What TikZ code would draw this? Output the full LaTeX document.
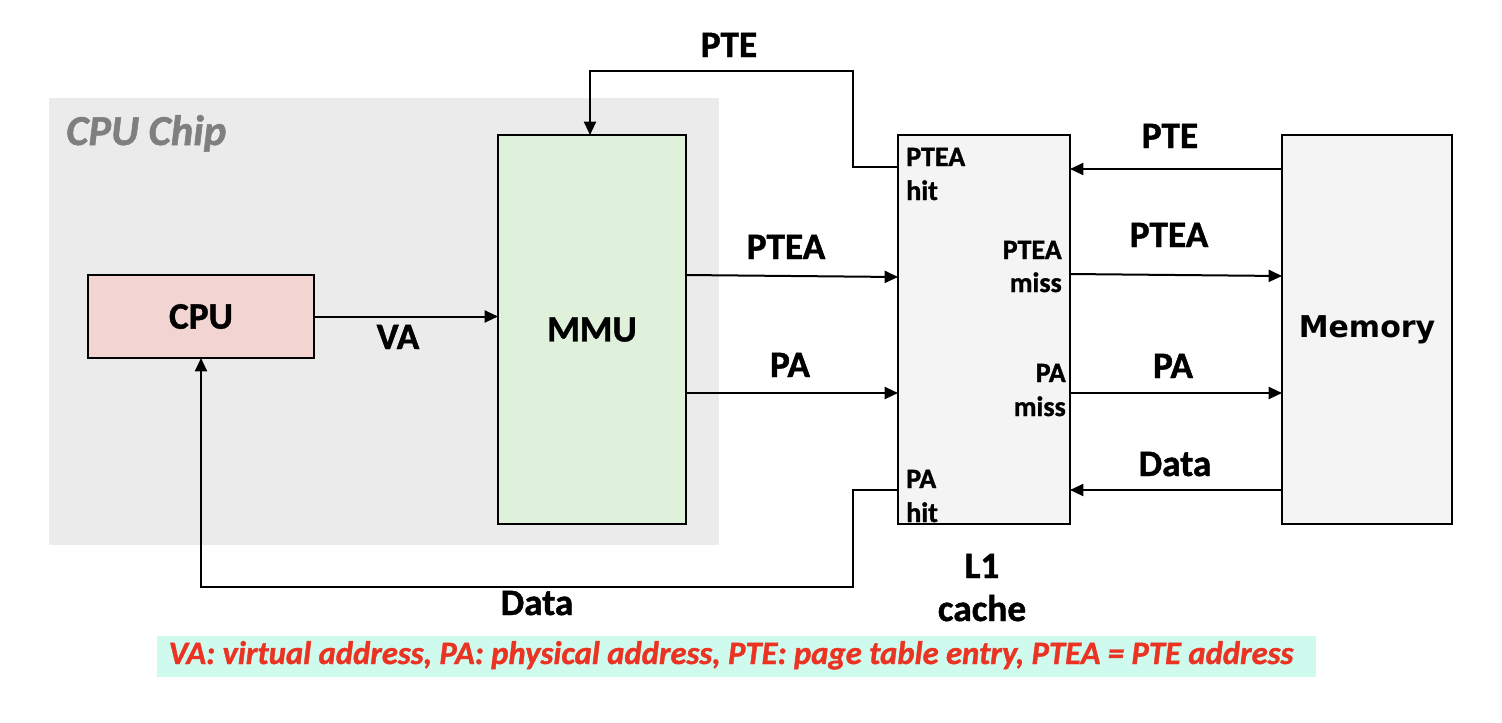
\documentclass[tikz,border=0pt]{standalone}
\usepackage{fontspec}
\setmainfont{Carlito}[BoldFeatures={FakeBold=1.2},BoldItalicFeatures={FakeBold=1.2}]
\newfontfamily\memfont{DejaVu Sans}
\usetikzlibrary{arrows.meta}
\definecolor{chipgray}{HTML}{EBEBEB}
\definecolor{cpufill}{HTML}{F2D4D3}
\definecolor{mmufill}{HTML}{DFF0DB}
\definecolor{boxfill}{HTML}{F4F4F4}
\definecolor{legbg}{HTML}{CFFBEE}
\definecolor{legred}{HTML}{EA3323}
\definecolor{chiptext}{HTML}{7F7F7F}
\begin{document}
\begin{tikzpicture}[x=0.75pt,y=-0.75pt,
  box/.style={draw=black, line width=1.5pt, inner sep=0pt, outer sep=0pt},
  biglbl/.style={font=\fontsize{28}{33}\selectfont\bfseries, inner sep=0pt, anchor=base},
  boxlbl/.style={font=\fontsize{28}{34}\selectfont\bfseries},
  smalllbl/.style={font=\fontsize{21}{25}\selectfont\bfseries, inner sep=0pt},
  arr/.style={line width=1.5pt, -{Triangle[length=10pt,width=9pt]}},
  wire/.style={line width=1.5pt}]
\useasboundingbox (0,0) rectangle (1502,722);
% background of the chip
\node[fill=chipgray, minimum width=502.5pt, minimum height=335.25pt, inner sep=0pt, outer sep=0pt] (chip) at (384,321.5) {};
\node[font=\fontsize{32}{38}\selectfont\bfseries\itshape, text=chiptext, inner sep=0pt, anchor=base west] (chiplbl) at (66,145) {CPU Chip};
% boxes
\node[box, fill=cpufill, minimum width=169.5pt, minimum height=62.25pt, boxlbl] (cpu) at (201,316.5) {CPU};
\node[box, fill=mmufill, minimum width=141pt, minimum height=291.75pt, boxlbl] (mmu) at (592,329.5) {MMU};
\node[box, fill=boxfill, minimum width=129pt, minimum height=291.75pt] (l1) at (984,329.5) {};
\node[box, fill=boxfill, minimum width=127.5pt, minimum height=291.75pt, font=\memfont\fontsize{22.5}{27}\selectfont\bfseries] (mem) at (1367,329.5) {Memory};
% labels inside L1
\node[smalllbl, anchor=base west] (ph1) at (906,166) {PTEA};
\node[smalllbl, anchor=base west] (ph2) at (906,200) {hit};
\node[smalllbl, anchor=base east] (pm1) at (1062,259) {PTEA};
\node[smalllbl, anchor=base east] (pm2) at (1062,292) {miss};
\node[smalllbl, anchor=base east] (am1) at (1066,382) {PA};
\node[smalllbl, anchor=base east] (am2) at (1066,416) {miss};
\node[smalllbl, anchor=base west] (ah1) at (906,488) {PA};
\node[smalllbl, anchor=base west] (ah2) at (906,522) {hit};
\node[biglbl] (l1a) at (982,578) {L1};
\node[biglbl] (l1b) at (982,621) {cache};
% connectors
\draw[arr] (cpu.east) -- (mmu.west |- cpu.east);
\node[biglbl] (va) at (398,349) {VA};
\draw[arr] (mmu.east |- 0,275) -- (l1.west |- 0,277);
\node[biglbl] (ptea1) at (786,259) {PTEA};
\draw[arr] (mmu.east |- 0,393) -- (l1.west |- 0,393);
\node[biglbl] (pa1) at (790,377) {PA};
\coordinate (pteup) at (853,71);
\draw[arr] (l1.west |- 0,167) -| (pteup) -| (mmu.north -| 590,0);
\node[biglbl] (pte1) at (729,57) {PTE};
\draw[arr] (mem.west |- 0,169) -- (l1.east |- 0,169);
\node[biglbl] (pte2) at (1170,148) {PTE};
\draw[arr] (l1.east |- 0,274) -- (mem.west |- 0,276);
\node[biglbl] (ptea2) at (1169,247) {PTEA};
\draw[arr] (l1.east |- 0,393) -- (mem.west |- 0,393);
\node[biglbl] (pa2) at (1173,378) {PA};
\draw[arr] (mem.west |- 0,490) -- (l1.east |- 0,490);
\node[biglbl] (data2) at (1175,476) {Data};
\coordinate (datadown) at (853,587);
\draw[arr] (l1.west |- 0,490) -| (datadown) -| (cpu.south);
\node[biglbl] (data1) at (537,615) {Data};
% legend
\node[fill=legbg, minimum width=869.25pt, minimum height=30.75pt, inner sep=0pt, outer sep=0pt] (legbox) at (736.5,656.5) {};
\node[font=\fontsize{24.5}{29}\selectfont\bfseries\itshape, text=legred, inner sep=0pt, anchor=base] (legend) at (731,664) {VA: virtual address, PA: physical address, PTE: page table entry, PTEA = PTE address};
\end{tikzpicture}
\end{document}
